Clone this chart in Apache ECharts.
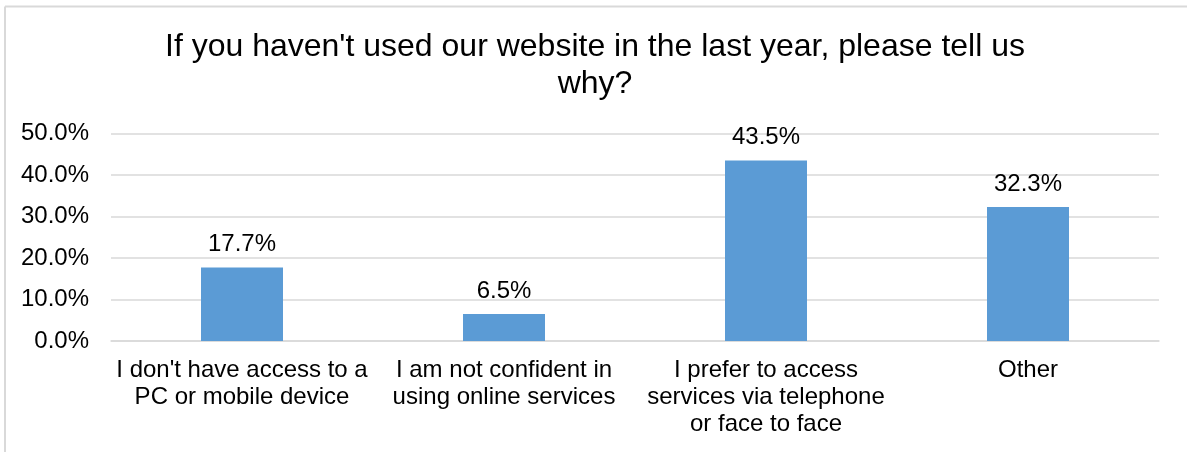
<!DOCTYPE html>
<html>
<head>
<meta charset="utf-8">
<style>
  html, body { margin: 0; padding: 0; background: #fff; }
  #chart { width: 1187px; height: 452px; }
</style>
<script src="https://cdn.jsdelivr.net/npm/echarts@6/dist/echarts.min.js"></script>
</head>
<body>
<div id="chart"></div>
<script>
// Survey responses: reasons for not using the website
const titleText = "If you haven't used our website in the last year, please tell us\nwhy?";
const categories = [
  "I don't have access to a\nPC or mobile device",
  "I am not confident in\nusing online services",
  "I prefer to access\nservices via telephone\nor face to face",
  "Other"
];
const percentages = [17.7, 6.5, 43.5, 32.3];
const yTicks = { min: 0, max: 50, interval: 10 };

const FONT = '"Liberation Sans", Arial, sans-serif';
const chart = echarts.init(document.getElementById('chart'), null, { renderer: 'canvas' });

chart.setOption({
  backgroundColor: '#fff',
  animation: false,
  textStyle: { fontFamily: FONT, color: '#000' },
  title: {
    text: titleText,
    left: 595,
    textAlign: 'center',
    top: 29,
    padding: 0,
    textStyle: { fontFamily: FONT, fontSize: 32, fontWeight: 'normal', color: '#000', lineHeight: 37 }
  },
  graphic: [
    { type: 'line', shape: { x1: 5, y1: 6.5, x2: 1187, y2: 6.5 }, style: { stroke: '#d9d9d9', lineWidth: 2 }, silent: true },
    { type: 'line', shape: { x1: 5, y1: 6.5, x2: 5, y2: 452 }, style: { stroke: '#d9d9d9', lineWidth: 2 }, silent: true }
  ],
  grid: { left: 111, right: 28, top: 133.5, bottom: 111, containLabel: false },
  xAxis: {
    type: 'category',
    data: categories,
    axisTick: { show: false },
    axisLine: { show: true, lineStyle: { color: '#d9d9d9', width: 1.5 } },
    axisLabel: {
      interval: 0,
      margin: 16,
      fontFamily: FONT,
      fontSize: 24,
      lineHeight: 27,
      color: '#000'
    }
  },
  yAxis: {
    type: 'value',
    min: yTicks.min,
    max: yTicks.max,
    interval: yTicks.interval,
    axisLine: { show: false },
    axisTick: { show: false },
    splitLine: { lineStyle: { color: '#d9d9d9', width: 1.5 } },
    axisLabel: {
      margin: 22,
      fontFamily: FONT,
      fontSize: 24,
      color: '#000',
      formatter: v => v.toFixed(1) + '%'
    }
  },
  series: [{
    type: 'bar',
    data: percentages,
    barWidth: 82,
    itemStyle: { color: '#5B9BD5' },
    label: {
      show: true,
      position: 'top',
      distance: 11,
      fontFamily: FONT,
      fontSize: 24,
      color: '#000',
      formatter: p => p.value.toFixed(1) + '%'
    }
  }]
});
</script>
</body>
</html>
